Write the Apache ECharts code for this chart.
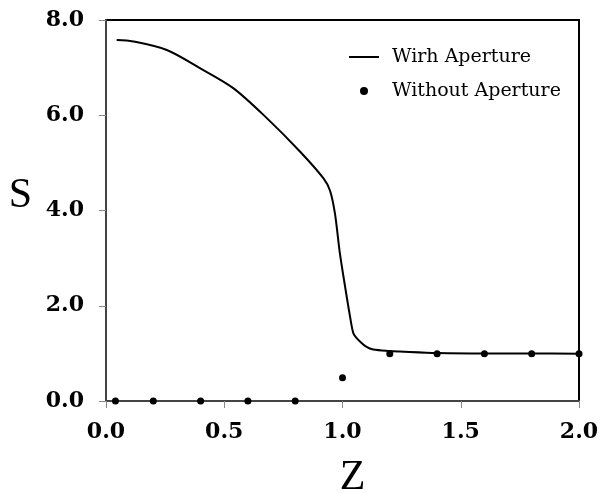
<!DOCTYPE html>
<html>
<head>
<meta charset="utf-8">
<script src="https://cdn.jsdelivr.net/npm/echarts@6/dist/echarts.min.js"></script>
<style>html,body{margin:0;padding:0;background:#fff;overflow:hidden}#c{width:602px;height:493px}</style>
</head>
<body>
<div id="c"></div>
<script>
var withZ = [0.045,0.115,0.257,0.397,0.538,0.68,0.82,0.919,0.947,0.968,0.989,1.011,1.032,1.046,1.06,1.074,1.10,1.13,1.2,1.243,1.4,1.6,1.8,2.0];
var withS = [7.58,7.55,7.37,6.99,6.57,5.94,5.24,4.68,4.42,3.94,3.10,2.40,1.77,1.42,1.32,1.25,1.14,1.08,1.05,1.04,1.01,1.0,1.0,0.99];
var withoutZ = [0.04,0.2,0.4,0.6,0.8,1.0,1.2,1.4,1.6,1.8,2.0];
var withoutS = [0,0,0,0,0,0.49,0.99,0.99,0.99,0.99,0.99];
var xTicks = ['0.0','0.5','1.0','1.5','2.0'];
var yTicks = ['0.0','2.0','4.0','6.0','8.0'];
var seriesNames = ['Wirh Aperture','Without Aperture'];

function zip(a,b){return a.map(function(v,i){return [v,b[i]];});}
var chart = echarts.init(document.getElementById('c'));
var tickFont = {fontFamily:'DejaVu Serif', fontWeight:'bold', fontSize:22, color:'#000'};
chart.setOption({
  animation:false,
  backgroundColor:'#fff',
  grid:{left:106,right:23,top:20,bottom:92,show:true,borderColor:'#000',borderWidth:2,
        containLabel:false, outerBoundsMode:'none'},
  legend:{
    left:349, top:47, padding:0, orient:'vertical', itemWidth:30, itemHeight:8, itemGap:14,
    textStyle:{fontFamily:'DejaVu Serif', fontSize:19, lineHeight:20, color:'#000', padding:[0,0,0,8]},
    data:[{name:seriesNames[0], icon:'path://M0,0H30V2H0Z', itemStyle:{color:'#000'}},{name:seriesNames[1]}]
  },
  xAxis:{
    type:'value', min:0, max:2, interval:0.5,
    name:'Z', nameLocation:'middle', nameGap:56,
    nameTextStyle:{fontFamily:'Liberation Serif', fontSize:42, color:'#000', padding:[0,0,0,20]},
    axisLine:{show:true, lineStyle:{color:'#444', width:2}},
    axisTick:{show:true, inside:false, length:7, lineStyle:{color:'#888', width:1}},
    axisLabel:Object.assign({margin:20, formatter:function(v){return xTicks[Math.round(v/0.5)];}}, tickFont),
    splitLine:{show:false}
  },
  yAxis:{
    type:'value', min:0, max:8, interval:2,
    name:'S', nameLocation:'middle', nameGap:74, nameRotate:0,
    nameTextStyle:{fontFamily:'Liberation Serif', fontSize:42, lineHeight:30, verticalAlign:'bottom', color:'#000'},
    axisLine:{show:true, lineStyle:{color:'#444', width:2}},
    axisTick:{show:true, inside:false, length:7, lineStyle:{color:'#888', width:1}},
    axisLabel:Object.assign({margin:22, formatter:function(v){return yTicks[Math.round(v/2)];}}, tickFont),
    splitLine:{show:false}
  },
  series:[
    {name:seriesNames[0], type:'line', data:zip(withZ,withS), symbol:'none', smooth:0.3,
     lineStyle:{color:'#000', width:2}, itemStyle:{color:'#000'}, z:3},
    {name:seriesNames[1], type:'scatter', data:zip(withoutZ,withoutS), symbol:'circle', symbolSize:7,
     itemStyle:{color:'#000', opacity:1}, z:4}
  ]
});
</script>
</body>
</html>
